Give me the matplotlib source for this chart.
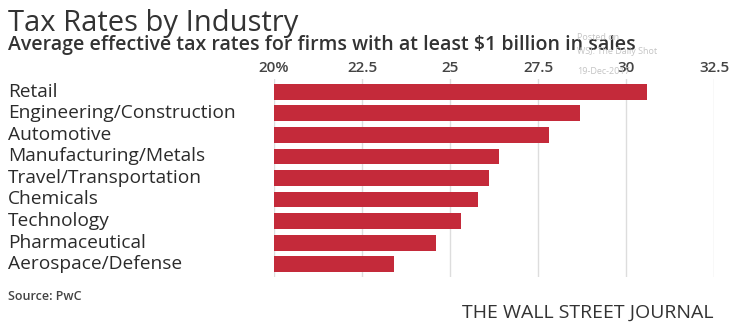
import matplotlib.pyplot as plt

plt.rcParams['font.family'] = 'Open Sans'

industries = ['Retail', 'Engineering/Construction', 'Automotive', 'Manufacturing/Metals',
              'Travel/Transportation', 'Chemicals', 'Technology', 'Pharmaceutical',
              'Aerospace/Defense']
rates = [30.6, 28.7, 27.8, 26.4, 26.1, 25.8, 25.3, 24.6, 23.4]
ticks = [20, 22.5, 25, 27.5, 30, 32.5]
tick_labels = ['20%', '22.5', '25', '27.5', '30', '32.5']

fig = plt.figure(figsize=(7.3, 3.28), dpi=100)
ax = fig.add_axes([274/730, 1 - 277/328, 440/730, 198/328])

ypos = range(len(industries))
ax.barh(ypos, [r - 20 for r in rates], left=20, height=0.74, color='#C42A3A', zorder=3)
ax.set_xlim(20, 32.5)
ax.set_ylim(len(industries) - 0.4, -0.6)
ax.set_xticks(ticks)
ax.set_xticklabels(tick_labels, fontsize=11, color='#444444', fontweight='semibold')
ax.xaxis.tick_top()
ax.tick_params(axis='x', length=0, pad=3)
ax.set_yticks([])
ax.grid(axis='x', color='#dddddd', linewidth=1, zorder=0)
for s in ax.spines.values():
    s.set_visible(False)

# category labels at the far left
for i, name in enumerate(industries):
    fig.text(8/730, 1 - (92 + i*21.5)/328, name, fontsize=13.8,
             color='#2b2b2b', va='center', ha='left')

fig.text(8/730, 1 - 23/328, 'Tax Rates by Industry', fontsize=21, color='#333333',
         va='center', ha='left')
fig.text(8/730, 1 - 45/328, 'Average effective tax rates for firms with at least $1 billion in sales',
         fontsize=14, fontweight='semibold', color='#333333', va='center', ha='left')

# faint repost stamp (overlaps the subtitle in the original too)
fig.text(577/730, 1 - 37/328, 'Posted on', fontsize=6.5, color='#c4c4c4', va='center')
fig.text(577/730, 1 - 52/328, 'WSJ: The Daily Shot', fontsize=6.5, color='#c4c4c4', va='center')
fig.text(577/730, 1 - 71/328, '19-Dec-2017', fontsize=6.5, color='#c4c4c4', va='center')

fig.text(8/730, 1 - 296/328, 'Source: PwC', fontsize=9, fontweight='semibold',
         color='#444444', va='center')
fig.text(714/730, 1 - 313/328, 'THE WALL STREET JOURNAL', fontsize=14, color='#333333',
         va='center', ha='right')

fig.savefig('out.png', dpi=100)
